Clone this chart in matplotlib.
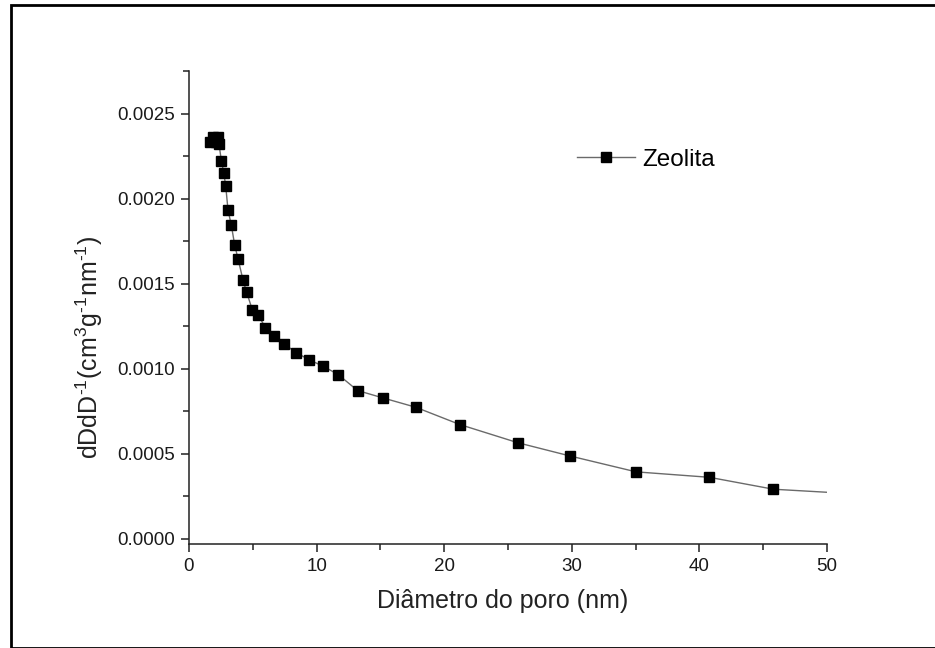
import numpy as np
import matplotlib
matplotlib.use("Agg")
import matplotlib.pyplot as plt
from matplotlib.ticker import MultipleLocator
from matplotlib.patches import Rectangle

plt.rcParams['font.family'] = ['Liberation Sans', 'DejaVu Sans']
plt.rcParams['mathtext.fontset'] = 'custom'
plt.rcParams['mathtext.rm'] = 'Liberation Sans'
plt.rcParams['mathtext.it'] = 'Liberation Sans'
plt.rcParams['mathtext.bf'] = 'Liberation Sans:bold'

# pore diameter (nm) and dD/dD^-1 values
diametro = [1.65, 1.9, 2.1, 2.25, 2.35, 2.54, 2.72, 2.88, 3.06, 3.32, 3.58, 3.84,
            4.24, 4.52, 4.96, 5.44, 5.99, 6.64, 7.43, 8.42, 9.41, 10.51, 11.69,
            13.21, 15.18, 17.76, 21.23, 25.78, 29.88, 35.04, 40.78, 45.8, 50.0]
volume = [0.00233, 0.00236, 0.00233, 0.00236, 0.00232, 0.002221, 0.002153,
          0.002072, 0.001931, 0.001843, 0.001727, 0.001647, 0.001519, 0.001449,
          0.001347, 0.001314, 0.001241, 0.00119, 0.001147, 0.001094, 0.001053,
          0.001015, 0.000966, 0.000872, 0.000829, 0.000774, 0.000672, 0.000565,
          0.000487, 0.000394, 0.000362, 0.000292, 0.000274]
serie = 'Zeolita'

fig = plt.figure(figsize=(9.35, 6.48), dpi=100)
ax = fig.add_axes([189 / 935, 1 - 544 / 648, 638 / 935, 473 / 648])

# last point only continues the line, no marker
ax.plot(diametro, volume, color='#6a6a6a', lw=1.0, marker='s', markersize=7.2,
        markerfacecolor='black', markeredgecolor='black',
        markevery=list(range(len(diametro) - 1)), label=serie)

ax.set_xlim(0, 50)
ax.set_ylim(-0.00003, 0.00275)
ax.xaxis.set_major_locator(MultipleLocator(10))
ax.xaxis.set_minor_locator(MultipleLocator(5))
ax.yaxis.set_major_locator(MultipleLocator(0.0005))
ax.yaxis.set_minor_locator(MultipleLocator(0.00025))
ax.yaxis.set_major_formatter(plt.FormatStrFormatter('%.4f'))

for s in ['top', 'right']:
    ax.spines[s].set_visible(False)
for s in ['left', 'bottom']:
    ax.spines[s].set_linewidth(1.1)
    ax.spines[s].set_color('#222222')
ax.tick_params(which='major', length=6, width=1.1, color='#222222',
               labelsize=13.5, labelcolor='#1a1a1a', pad=4)
ax.tick_params(which='minor', length=4, width=1.1, color='#222222')

ax.set_xlabel('Diâmetro do poro (nm)', fontsize=18, color='#222222')
ax.xaxis.set_label_coords(0.492, -0.095)
ax.set_ylabel(r'dDdD$^{\text{-1}}$(cm$^{\text{3}}$g$^{\text{-1}}$nm$^{\text{-1}}$)',
              fontsize=18, color='#222222')
ax.yaxis.set_label_coords(-0.132, 0.416)

ax.legend(loc='center left', bbox_to_anchor=(0.608, 0.812), frameon=False,
          borderpad=0, borderaxespad=0, handlelength=2.4, handletextpad=0.3,
          numpoints=1, fontsize=17.5)

# frame around the picture
fig.patches.append(Rectangle((11 / 935, 0.0), 1.0, 1 - 5 / 648,
                             transform=fig.transFigure, fill=False,
                             edgecolor='black', lw=2.0))

fig.savefig('out.png', dpi=100)
